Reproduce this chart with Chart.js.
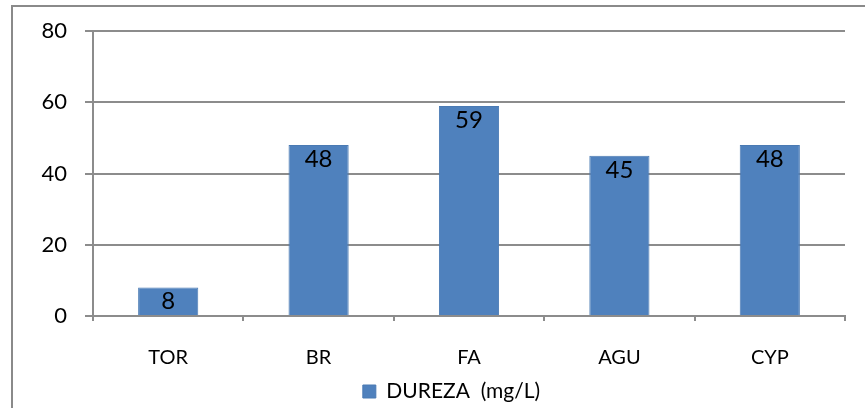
<!DOCTYPE html>
<html>
<head>
<meta charset="utf-8">
<script src="https://cdn.jsdelivr.net/npm/chart.js@4/dist/chart.umd.min.js"></script>
<style>
  html, body { margin: 0; padding: 0; background: #fff; }
  #wrap { width: 865px; height: 408px; position: relative; }
</style>
</head>
<body>
<div id="wrap"><canvas id="chart" width="865" height="408"></canvas></div>
<script>
// data
const categories = ['TOR', 'BR', 'FA', 'AGU', 'CYP'];
const durezaValues = [8, 48, 59, 45, 48];
const seriesName = 'DUREZA  (mg/L)';
const yTicks = [0, 20, 40, 60, 80];

const FONT = 'Lato, "Open Sans", sans-serif';
const GRAY = '#8c8c8c';

// draws the outer frame (left + top edges visible)
const framePlugin = {
  id: 'frame',
  beforeDraw(chart) {
    const ctx = chart.ctx;
    ctx.save();
    ctx.strokeStyle = '#8a8a8a';
    ctx.lineWidth = 2;
    ctx.beginPath();
    ctx.moveTo(12, 408);
    ctx.lineTo(12, 6);
    ctx.lineTo(865, 6);
    ctx.stroke();
    ctx.restore();
  }
};

// nudge the legend so it is centred a bit to the right and lower, like the original
const legendShift = {
  id: 'legendShift',
  afterUpdate(chart) {
    const lg = chart.legend;
    if (!lg) return;
    lg.left = 58;
    lg.top += 4;
    lg.bottom += 4;
    lg.adjustHitBoxes();
  }
};

// value labels just inside the top of each bar
const valueLabels = {
  id: 'valueLabels',
  afterDatasetsDraw(chart) {
    const ctx = chart.ctx;
    const meta = chart.getDatasetMeta(0);
    ctx.save();
    ctx.font = '24px ' + FONT;
    ctx.fillStyle = '#000';
    ctx.textAlign = 'center';
    ctx.textBaseline = 'middle';
    meta.data.forEach((bar, i) => {
      ctx.fillText(String(durezaValues[i]), bar.x, bar.y + 14);
    });
    ctx.restore();
  }
};

new Chart(document.getElementById('chart'), {
  type: 'bar',
  data: {
    labels: categories,
    datasets: [{
      label: seriesName,
      data: durezaValues,
      backgroundColor: '#4f81bd',
      borderColor: '#4a7ab3',
      borderWidth: 1,
      categoryPercentage: 0.4,
      barPercentage: 1
    }]
  },
  options: {
    responsive: false,
    animation: false,
    layout: { padding: { left: 0, right: 20, top: 31, bottom: 0 } },
    plugins: {
      legend: {
        position: 'bottom',
        labels: {
          font: { family: FONT, size: 21 },
          color: '#000',
          boxWidth: 13,
          boxHeight: 13,
          padding: 4
        }
      },
      tooltip: { enabled: false }
    },
    scales: {
      x: {
        grid: { drawOnChartArea: false, drawTicks: true, tickLength: 5, color: GRAY, lineWidth: 2 },
        border: { color: GRAY, width: 2 },
        ticks: { font: { family: FONT, size: 20 }, color: '#000', padding: 25 },
        afterFit(scale) { scale.height = 57; }
      },
      y: {
        min: 0,
        max: 80,
        afterBuildTicks(scale) { scale.ticks = yTicks.map(v => ({ value: v })); },
        grid: { color: GRAY, lineWidth: 2, tickLength: 8 },
        border: { color: GRAY, width: 2 },
        ticks: { font: { family: FONT, size: 22 }, color: '#000', padding: 18 },
        afterFit(scale) { scale.width = 93; }
      }
    }
  },
  plugins: [framePlugin, legendShift, valueLabels]
});
</script>
</body>
</html>
